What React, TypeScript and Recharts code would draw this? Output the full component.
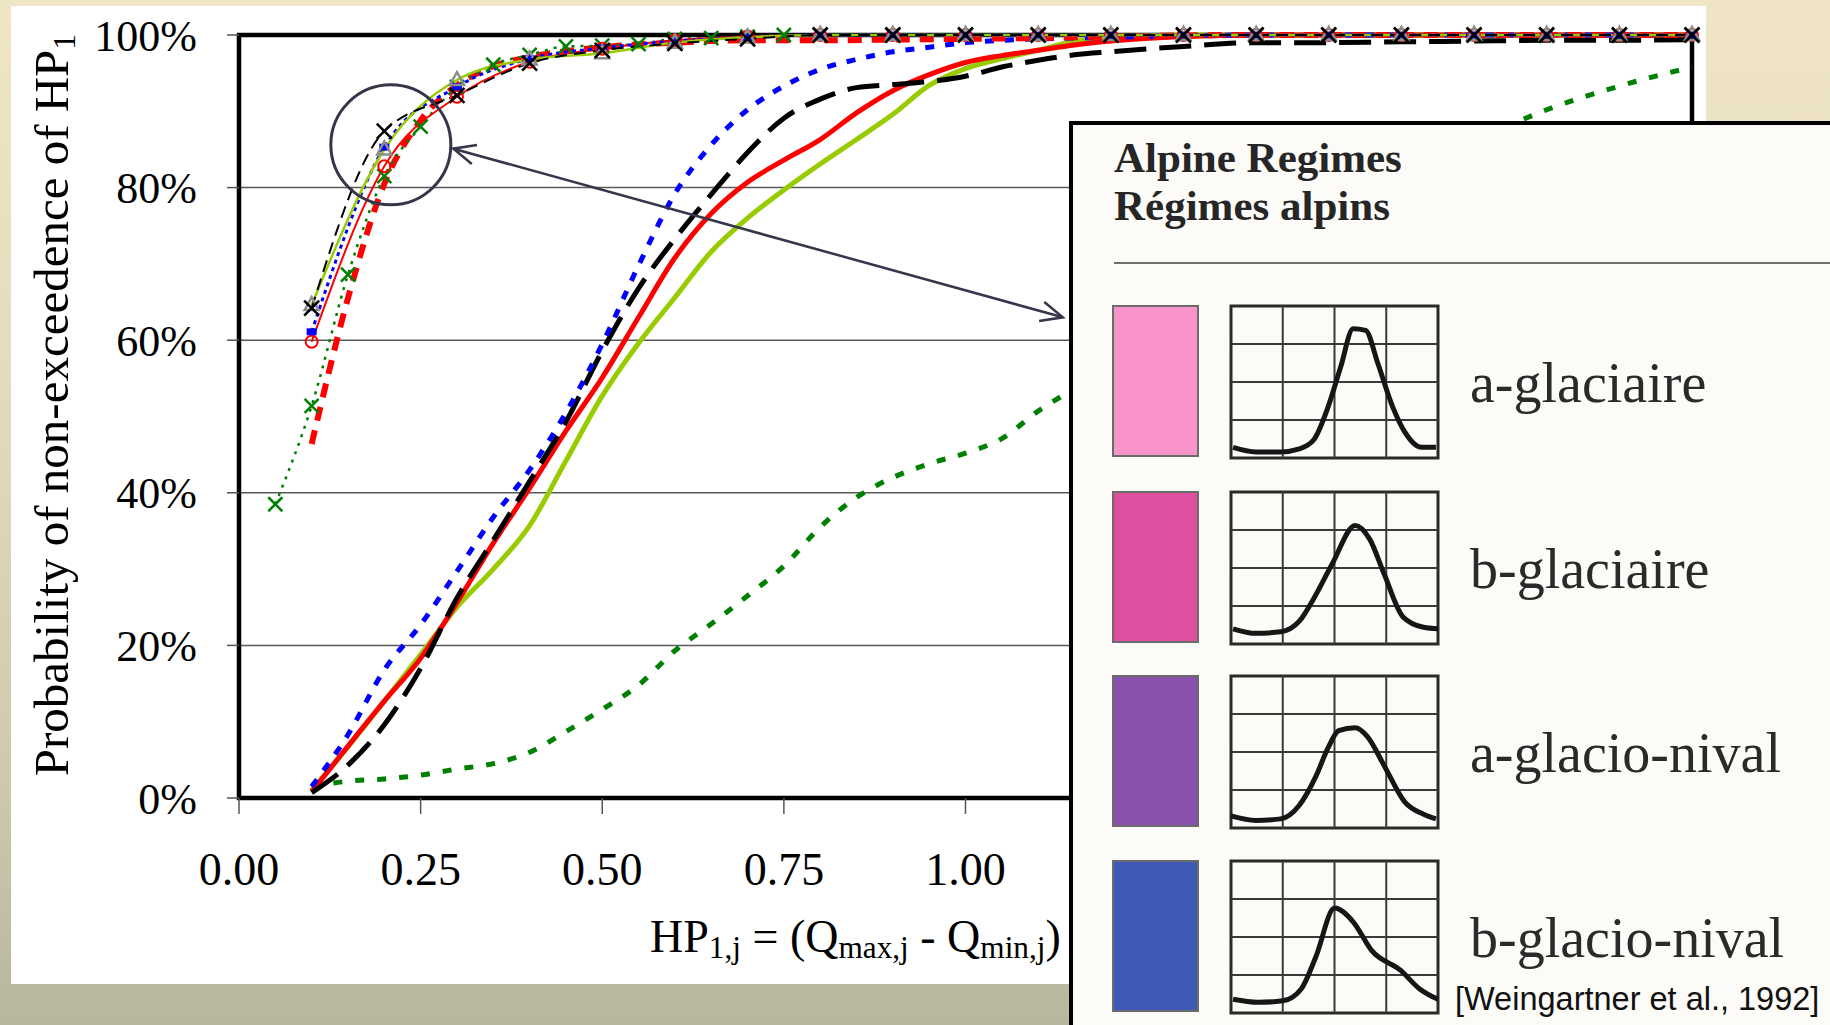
import React from "react";
import { LineChart, Line, XAxis, YAxis, CartesianGrid, ReferenceArea, ReferenceDot, ReferenceLine } from "recharts";

// axes
const xTicks = [0, 0.25, 0.5, 0.75, 1, 1.25, 1.5, 1.75, 2];
const yTicks = [0, 20, 40, 60, 80, 100];

// steep family (with markers), sampled every 0.1
const xA = [0.1, 0.2, 0.3, 0.4, 0.5, 0.6, 0.7, 0.8, 0.9, 1.0, 1.1, 1.2, 1.3, 1.4, 1.5, 1.6, 1.7, 1.8, 1.9, 2.0];
const blackCross = [64.2, 87.4, 92.1, 96.3, 98.0, 98.9, 99.5, 100, 100, 100, 100, 100, 100, 100, 100, 100, 100, 100, 100, 100];
const limeTriangle = [64.6, 85.0, 94.1, 96.8, 97.6, 99.0, 99.7, 100, 100, 100, 100, 100, 100, 100, 100, 100, 100, 100, 100, 100];
const blueSquare = [61.1, 85.3, 93.2, 96.9, 98.3, 99.2, 99.7, 100, 100, 100, 100, 100, 100, 100, 100, 100, 100, 100, 100, 100];
const redCircle = [59.8, 82.8, 91.9, 96.5, 98.2, 99.3, 99.8, 100, 100, 100, 100, 100, 100, 100, 100, 100, 100, 100, 100, 100];

const xRedDash = [0.1, 0.15, 0.2, 0.25, 0.3, 0.35, 0.4, 0.5, 0.6, 0.7, 0.8, 0.9, 1.0, 1.1, 1.2, 1.4, 1.6, 1.8, 2.0];
const redDash = [46.4, 65.5, 80.5, 88.8, 93.4, 95.9, 97.1, 98.4, 99.0, 99.3, 99.3, 99.4, 99.5, 99.6, 99.8, 100, 100, 100, 100];

const xGreenCross = [0.05, 0.1, 0.15, 0.2, 0.25, 0.3, 0.35, 0.4, 0.45, 0.5, 0.55, 0.6, 0.65, 0.7, 0.75, 0.8, 0.9, 1.0, 1.1, 1.2, 1.3, 1.4, 1.5, 1.6, 1.7, 1.8, 1.9, 2.0];
const greenCross = [38.5, 51.4, 68.6, 81.5, 88.0, 93.2, 96.1, 97.4, 98.5, 98.6, 98.8, 99.5, 99.6, 99.8, 100, 100, 100, 100, 100, 100, 100, 100, 100, 100, 100, 100, 100, 100];

// slow family (thick, no markers)
const xB = [0.1, 0.15, 0.2, 0.25, 0.3, 0.35, 0.4, 0.45, 0.5, 0.55, 0.6, 0.65, 0.7, 0.75, 0.8, 0.85, 0.9, 0.95, 1.0, 1.05, 1.1, 1.15, 1.2, 1.3, 1.4, 1.5, 1.6, 1.7, 1.8, 1.9, 2.0];
const blueThick = [1.5, 8.3, 16.8, 22.7, 29.7, 36.8, 43.0, 50.5, 59.5, 69.8, 79.2, 85.6, 90.2, 93.3, 95.5, 96.8, 97.8, 98.4, 99.0, 99.3, 99.5, 99.6, 99.7, 99.9, 100, 100, 100, 100, 100, 100, 100];
const blackThick = [0.7, 4.3, 9.6, 17.0, 26.2, 33.8, 41.5, 49.3, 58.6, 66.8, 73.3, 79.1, 84.6, 89.1, 91.6, 93.1, 93.5, 93.9, 94.6, 95.8, 96.7, 97.4, 97.8, 98.5, 99.0, 99.0, 99.1, 99.2, 99.3, 99.3, 99.4];
const redThick = [0.8, 6.8, 12.7, 18.3, 25.6, 33.4, 40.6, 48.1, 55.1, 63.0, 70.8, 76.6, 80.7, 83.6, 86.3, 89.8, 92.7, 94.8, 96.4, 97.3, 98.0, 98.7, 99.2, 99.8, 100, 100, 100, 100, 100, 100, 100];
const limeThick = [1.0, 6.7, 12.7, 18.8, 25.0, 30.0, 35.7, 44.2, 52.7, 59.6, 65.6, 71.6, 76.0, 79.7, 83.1, 86.3, 89.6, 93.4, 95.6, 96.9, 98.0, 99.2, 99.6, 100, 100, 100, 100, 100, 100, 100, 100];
const greenThick = [1.5, 2.2, 2.5, 3.0, 3.8, 4.5, 6.0, 8.7, 11.6, 14.8, 19.3, 22.8, 26.5, 30.4, 35.5, 39.4, 42.0, 43.8, 45.2, 47.1, 50.7, 53.7, 56.8, 63.0, 69.5, 75.5, 81.0, 86.0, 90.2, 93.3, 95.8];

// inset: monthly regime sketches (x and y in % of the box)
const regimeNames = ["a-glaciaire", "b-glaciaire", "a-glacio-nival", "b-glacio-nival"];
const regimeColors = ["#f894c9", "#dc509f", "#8b4fae", "#3d5bb6"];
const aGlacX = [1, 12, 24, 33, 40, 47, 53, 59, 65, 71, 78, 84, 92, 99];
const aGlacY = [7, 4, 4, 6, 12, 34, 60, 85, 84, 62, 34, 17, 7, 7];
const bGlacX = [1, 12, 24, 33, 40, 49, 60, 67, 74, 83, 93, 100];
const bGlacY = [10, 7, 8, 15, 30, 53, 78, 69, 46, 18, 11, 10];
const aNivX = [0, 12, 24, 33, 41, 47, 52, 60, 66, 74, 84, 93, 99];
const aNivY = [8, 5, 6, 15, 34, 53, 64, 66, 60, 41, 17, 9, 6];
const bNivX = [1, 13, 25, 34, 41, 50, 59, 68, 82, 91, 100];
const bNivY = [9, 7, 8, 16, 37, 69, 60, 41, 28, 16, 9];
const miniGrid = [25, 50, 75];

const pts = (xs: number[], ys: number[]) => xs.map((x, i) => ({ x, y: ys[i] }));
const regimeData = [pts(aGlacX, aGlacY), pts(bGlacX, bGlacY), pts(aNivX, aNivY), pts(bNivX, bNivY)];

const serif = "'Liberation Serif', 'Times New Roman', serif";

function crossDot(color: string, size: number, width: number) {
  return (p: any) => {
    const { cx, cy, index } = p;
    if (cx == null || cy == null) return <g key={index} />;
    const s = size / 2;
    return (
      <g key={index}>
        <line x1={cx - s} y1={cy - s} x2={cx + s} y2={cy + s} stroke={color} strokeWidth={width} />
        <line x1={cx - s} y1={cy + s} x2={cx + s} y2={cy - s} stroke={color} strokeWidth={width} />
      </g>
    );
  };
}

const triangleDot = (p: any) => {
  const { cx, cy, index } = p;
  if (cx == null || cy == null) return <g key={index} />;
  return <polygon key={index} points={`${cx},${cy - 8} ${cx - 7},${cy + 5} ${cx + 7},${cy + 5}`} fill="none" stroke="#8c8c8c" strokeWidth={2.5} />;
};

const squareDot = (p: any) => {
  const { cx, cy, index } = p;
  if (cx == null || cy == null) return <g key={index} />;
  return <rect key={index} x={cx - 5} y={cy - 3.5} width={10} height={7} fill="#0000ff" />;
};

const circleDot = (p: any) => {
  const { cx, cy, index } = p;
  if (cx == null || cy == null) return <g key={index} />;
  return <circle key={index} cx={cx} cy={cy} r={6} fill="none" stroke="#ff0000" strokeWidth={2} />;
};

// double-headed annotation arrow
const ArrowShape = (p: any) => {
  const { x1, y1, x2, y2 } = p;
  const a = Math.atan2(y2 - y1, x2 - x1);
  const L = 24, w = 0.42;
  const c = "#343649";
  return (
    <g>
      <line x1={x1} y1={y1} x2={x2} y2={y2} stroke={c} strokeWidth={2.5} />
      <polyline points={`${x1 + L * Math.cos(a - w)},${y1 + L * Math.sin(a - w)} ${x1},${y1} ${x1 + L * Math.cos(a + w)},${y1 + L * Math.sin(a + w)}`} fill="none" stroke={c} strokeWidth={2.5} />
      <polyline points={`${x2 - L * Math.cos(a - w)},${y2 - L * Math.sin(a - w)} ${x2},${y2} ${x2 - L * Math.cos(a + w)},${y2 - L * Math.sin(a + w)}`} fill="none" stroke={c} strokeWidth={2.5} />
    </g>
  );
};

function MiniRegime({ data }: { data: { x: number; y: number }[] }) {
  return (
    <LineChart width={211} height={156} margin={{ top: 2, right: 2, bottom: 2, left: 2 }}>
      <XAxis type="number" dataKey="x" domain={[0, 100]} hide />
      <YAxis type="number" domain={[0, 100]} hide />
      {miniGrid.map((v) => (
        <ReferenceLine key={`v${v}`} x={v} stroke="#3a3a3a" strokeWidth={2} />
      ))}
      {miniGrid.map((v) => (
        <ReferenceLine key={`h${v}`} y={v} stroke="#3a3a3a" strokeWidth={2} />
      ))}
      <ReferenceArea x1={0} x2={100} y1={0} y2={100} fill="none" stroke="#2a2a2a" strokeWidth={3} />
      <Line data={data} type="monotone" dataKey="y" stroke="#161616" strokeWidth={5} dot={false} isAnimationActive={false} />
    </LineChart>
  );
}

const rowTops = [305, 491, 675, 860];

export default function App() {
  return (
    <div style={{ position: "absolute", left: 0, top: 0, width: 1830, height: 1025, overflow: "hidden", background: "linear-gradient(to bottom, #f0e6c5 0%, #e4dcbd 35%, #cfcaae 75%, #b8b69f 100%)" }}>
      <div style={{ position: "absolute", left: 11, top: 6, width: 1695, height: 978, background: "#ffffff" }} />

      <div style={{ position: "absolute", left: 0, top: 0 }}>
        <LineChart width={1830} height={1025} margin={{ top: 35, right: 138, bottom: 0, left: 0 }}>
          <CartesianGrid vertical={false} stroke="#5a5a5a" strokeWidth={1.5} />
          <XAxis
            type="number"
            dataKey="x"
            domain={[0, 2]}
            ticks={xTicks}
            interval={0}
            height={227}
            axisLine={false}
            tickLine={{ stroke: "#555", strokeWidth: 1.5 }}
            tickSize={16}
            tickMargin={38}
            tick={{ fontFamily: serif, fontSize: 46, fill: "#000" }}
            tickFormatter={(v: number) => (v <= 1 ? v.toFixed(2) : "")}
          />
          <YAxis
            type="number"
            domain={[0, 100]}
            ticks={yTicks}
            interval={0}
            width={239}
            axisLine={false}
            tickLine={{ stroke: "#555", strokeWidth: 1.5 }}
            tickSize={12}
            tickMargin={30}
            tick={{ fontFamily: serif, fontSize: 44, fill: "#000" }}
            tickFormatter={(v: number) => `${v}%`}
          />
          <ReferenceArea x1={0} x2={2} y1={0} y2={100} fill="none" stroke="#000" strokeWidth={4.5} />

          <Line data={pts(xB, greenThick)} type="monotone" dataKey="y" stroke="#008000" strokeWidth={5} strokeDasharray="9 13" dot={false} isAnimationActive={false} />
          <Line data={pts(xB, limeThick)} type="monotone" dataKey="y" stroke="#99cc00" strokeWidth={5} dot={false} isAnimationActive={false} />
          <Line data={pts(xB, redThick)} type="monotone" dataKey="y" stroke="#ff0000" strokeWidth={5} dot={false} isAnimationActive={false} />
          <Line data={pts(xB, blackThick)} type="monotone" dataKey="y" stroke="#000" strokeWidth={5} strokeDasharray="32 13" dot={false} isAnimationActive={false} />
          <Line data={pts(xB, blueThick)} type="monotone" dataKey="y" stroke="#0000ff" strokeWidth={5} strokeDasharray="9 11" dot={false} isAnimationActive={false} />

          <Line data={pts(xRedDash, redDash)} type="monotone" dataKey="y" stroke="#ff0000" strokeWidth={6} strokeDasharray="14 10" dot={false} isAnimationActive={false} />
          <Line data={pts(xGreenCross, greenCross)} type="monotone" dataKey="y" stroke="#008000" strokeWidth={2.5} strokeDasharray="3 6" dot={crossDot("#008000", 14, 2.5)} isAnimationActive={false} />
          <Line data={pts(xA, redCircle)} type="monotone" dataKey="y" stroke="#ff0000" strokeWidth={2} dot={circleDot} isAnimationActive={false} />
          <Line data={pts(xA, blueSquare)} type="monotone" dataKey="y" stroke="#0000ff" strokeWidth={3} strokeDasharray="4 4" dot={squareDot} isAnimationActive={false} />
          <Line data={pts(xA, limeTriangle)} type="monotone" dataKey="y" stroke="#99cc00" strokeWidth={2.5} dot={triangleDot} isAnimationActive={false} />
          <Line data={pts(xA, blackCross)} type="monotone" dataKey="y" stroke="#000" strokeWidth={2} strokeDasharray="12 7" dot={crossDot("#000", 15, 2.5)} isAnimationActive={false} />

          <ReferenceDot x={0.209} y={85.6} r={60} fill="none" stroke="#343649" strokeWidth={3} />
          <ReferenceLine segment={[{ x: 0.295, y: 85.1 }, { x: 1.134, y: 63.0 }]} shape={ArrowShape} />
        </LineChart>
      </div>

      <div style={{ position: "absolute", left: 58, top: 405, transform: "translate(-50%, -50%) rotate(-90deg)", whiteSpace: "nowrap", fontFamily: serif, fontSize: 49, lineHeight: "49px", color: "#000" }}>
        Probability of non-exceedence of HP<sub style={{ fontSize: "0.65em", verticalAlign: "-0.2em" }}>1</sub>
      </div>

      <div style={{ position: "absolute", left: 650, top: 913, whiteSpace: "nowrap", fontFamily: serif, fontSize: 46, lineHeight: "48px", color: "#000" }}>
        HP<sub style={{ fontSize: "0.68em", verticalAlign: "-0.2em" }}>1,j</sub> = (Q<sub style={{ fontSize: "0.68em", verticalAlign: "-0.2em" }}>max,j</sub> - Q<sub style={{ fontSize: "0.68em", verticalAlign: "-0.2em" }}>min,j</sub>)
      </div>

      <div style={{ position: "absolute", left: 1069, top: 121, width: 761, height: 904, boxSizing: "border-box", borderTop: "4px solid #000", borderLeft: "4px solid #000", background: "#fcfbf8" }}>
        <div style={{ position: "absolute", left: 1114 - 1073, top: 134 - 125, fontFamily: serif, fontWeight: 700, fontSize: 43, lineHeight: "48px", color: "#262626", whiteSpace: "nowrap" }}>
          Alpine Regimes
          <br />
          Régimes alpins
        </div>
        <div style={{ position: "absolute", left: 1114 - 1073, top: 262 - 125, width: 760, height: 2, background: "#707070" }} />
        {regimeNames.map((name, i) => (
          <React.Fragment key={name}>
            <div style={{ position: "absolute", left: 1112 - 1073, top: rowTops[i] - 125, width: 87, height: 152, boxSizing: "border-box", background: regimeColors[i], border: "2px solid #6b6b6b" }} />
            <div style={{ position: "absolute", left: 1231 - 1073 - 2, top: rowTops[i] + 1 - 125 - 2 }}>
              <MiniRegime data={regimeData[i]} />
            </div>
            <div style={{ position: "absolute", left: 1470 - 1073, top: rowTops[i] + 48 - 125, fontFamily: serif, fontSize: 56, lineHeight: "60px", color: "#2a2a2a", whiteSpace: "nowrap" }}>
              {name}
            </div>
          </React.Fragment>
        ))}
        <div style={{ position: "absolute", left: 1455 - 1073, top: 981 - 125, fontFamily: "'Liberation Sans', Arial, sans-serif", fontSize: 32.5, lineHeight: "36px", color: "#111", whiteSpace: "nowrap" }}>
          [Weingartner et al., 1992]
        </div>
      </div>
    </div>
  );
}
